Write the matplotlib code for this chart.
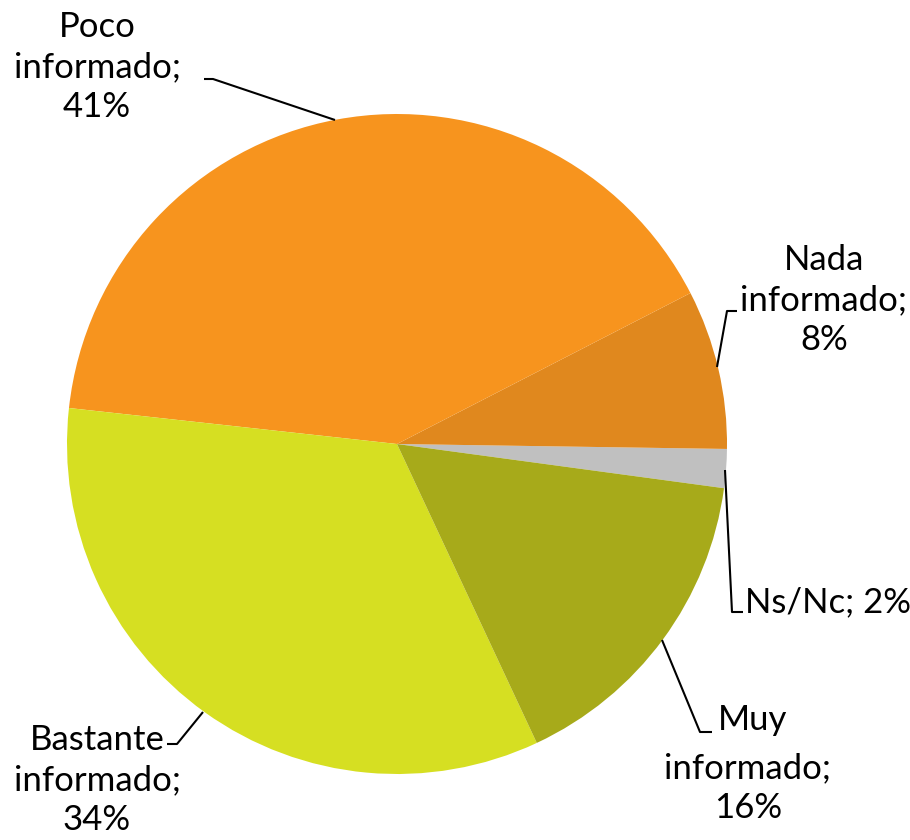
import matplotlib.pyplot as plt

# slices in drawing order (counter-clockwise from just below 3 o'clock)
categories = ['Ns/Nc', 'Nada informado', 'Poco informado', 'Bastante informado', 'Muy informado']
shares = [1.9, 7.8, 40.7, 33.7, 15.9]
shown_pct = ['2%', '8%', '41%', '34%', '16%']
colors = ['#C0C0C0', '#E0881E', '#F7941E', '#D6DF22', '#A7AA1A']

W, H = 910, 840


def px(x, y):
    # image pixel coords (y down) -> axes coords (y up)
    return x, H - y


fig = plt.figure(figsize=(W / 100, H / 100), dpi=100)
ax = fig.add_axes([0, 0, 1, 1])
ax.pie(shares, colors=colors, startangle=-7.7, counterclock=True,
       center=px(397, 444), radius=330, frame=True,
       wedgeprops=dict(linewidth=0))
ax.set_xlim(0, W)
ax.set_ylim(0, H)
ax.set_aspect('equal')
ax.axis('off')

font = dict(family=['Lato', 'DejaVu Sans'], fontsize=25, color='black',
            linespacing=1.32)

lab = {c: p for c, p in zip(categories, shown_pct)}
texts = [
    ('Poco\ninformado;\n' + lab['Poco informado'], 97, 67, 'center'),
    ('Nada\ninformado;\n' + lab['Nada informado'], 824, 300, 'center'),
    ('Ns/Nc; ' + lab['Ns/Nc'], 745, 602, 'left'),
    ('Bastante\ninformado;\n' + lab['Bastante informado'], 97, 780, 'center'),
]
for s, x, y, ha in texts:
    ax.text(*px(x, y), s, ha=ha, va='center', multialignment='center', **font)

# "Muy" sits left aligned next to its leader, the rest is centred below
ax.text(*px(718, 720), 'Muy', ha='left', va='center', **font)
ax.text(*px(748, 788), 'informado;\n' + lab['Muy informado'],
        ha='center', va='center', **font)

# leader lines
leaders = [
    [(335, 120), (213, 79), (204, 79)],
    [(717, 367), (727, 311), (737, 311)],
    [(725, 470), (732, 612), (743, 612)],
    [(662, 640), (700, 732), (712, 732)],
    [(203, 712), (177, 744), (167, 744)],
]
for pts in leaders:
    xs = [p[0] for p in pts]
    ys = [H - p[1] for p in pts]
    ax.plot(xs, ys, color='black', linewidth=1.5, solid_capstyle='butt')

fig.savefig('out.png', dpi=100)
